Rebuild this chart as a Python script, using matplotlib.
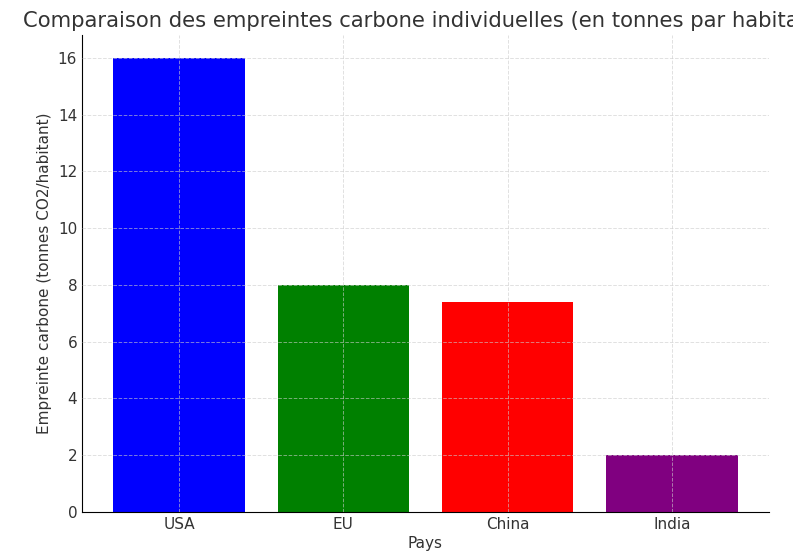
import matplotlib
matplotlib.use("Agg")
import matplotlib.pyplot as plt

# data
pays = ["USA", "EU", "China", "India"]
empreinte = [16, 8, 7.4, 2]
couleurs = ["blue", "green", "red", "purple"]

fig = plt.figure(figsize=(7.93, 5.59), dpi=100)
ax = fig.add_axes([0.1034, 0.0841, 0.8663, 0.853])

ax.bar(pays, empreinte, color=couleurs)

ax.set_title("Comparaison des empreintes carbone individuelles (en tonnes par habitant)",
             fontsize=15.2, color="#333333")
ax.set_xlabel("Pays", fontsize=11, color="#333333", labelpad=3)
ax.set_ylabel("Empreinte carbone (tonnes CO2/habitant)", fontsize=11, color="#333333")
ax.tick_params(labelsize=11, colors="#333333", length=0, pad=3.5)

# grid drawn over the bars, faint, as in the reference
ax.set_axisbelow(False)
ax.grid(True, linestyle="--", color="#cccccc", linewidth=0.7, alpha=0.6)
ax.spines["top"].set_visible(False)
ax.spines["right"].set_visible(False)

fig.savefig("out.png", dpi=100)
